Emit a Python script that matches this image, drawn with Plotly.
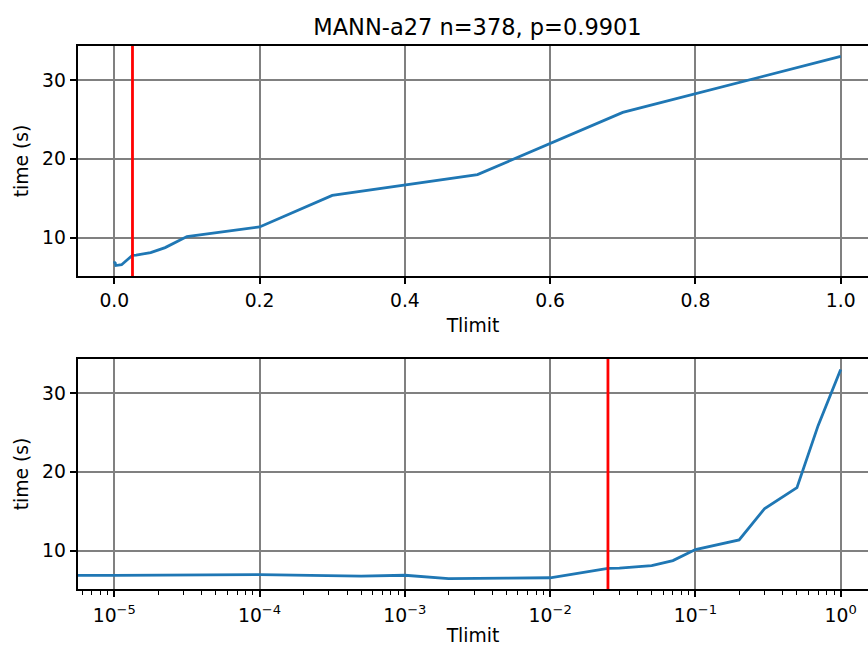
import numpy as np
import plotly.graph_objects as go

# ---- data ----
tlimit = [0, 1e-5, 1e-4, 5e-4, 1e-3, 2e-3, 5e-3, 1e-2, 0.025, 0.03,
          0.05, 0.07, 0.1, 0.2, 0.3, 0.5, 0.7, 1.0]
time_s = [6.85, 6.84, 6.95, 6.75, 6.87, 6.45, 6.5, 6.55, 7.75, 7.78,
          8.1, 8.73, 10.13, 11.35, 15.35, 18.0, 25.9, 33.0]
chosen_tlimit = 0.025
title_text = "MANN-a27 n=378, p=0.9901"
lin_ticks = [0.0, 0.2, 0.4, 0.6, 0.8, 1.0]
lin_ticklabels = ["0.0", "0.2", "0.4", "0.6", "0.8", "1.0"]
log_exps = [-5, -4, -3, -2, -1, 0]
y_ticks = [10, 20, 30]

# ---- geometry ----
W, H = 868, 646
ML, MT, MB = 78, 46, 57
FULL_AX_W = 799          # full axes width of the original (right part cropped)
VIS_AX_W = W - ML
BLUE = "#1f77b4"
FONT = "DejaVu Sans"
TICK_PX = 18.75
TITLE_PX = 22.5

x = np.array(tlimit, dtype=float)
y = np.array(time_s, dtype=float)

# matplotlib-like autoscale with 5% margins
def pad(lo, hi, m=0.05):
    d = hi - lo
    return lo - m * d, hi + m * d

xl_lo, xl_hi = pad(x.min(), x.max())
xl_hi_vis = xl_lo + (xl_hi - xl_lo) * VIS_AX_W / FULL_AX_W
pos = x[x > 0]
lg_lo, lg_hi = pad(np.log10(pos.min()), np.log10(pos.max()))
lg_hi_vis = lg_lo + (lg_hi - lg_lo) * VIS_AX_W / FULL_AX_W
y_lo, y_hi = pad(y.min(), y.max())

# non-positive values are clipped like matplotlib's log scale does
x_log = np.clip(x, 1e-300, None)

plot_h = H - MT - MB
top_dom = [(589 - 276) / plot_h, 1.0]
bot_dom = [0.0, (589 - 359) / plot_h]

fig = go.Figure()
fig.add_trace(go.Scatter(x=x, y=y, mode="lines", line=dict(color=BLUE, width=2.8),
                         xaxis="x", yaxis="y", showlegend=False))
fig.add_trace(go.Scatter(x=x_log, y=y, mode="lines", line=dict(color=BLUE, width=2.8),
                         xaxis="x2", yaxis="y2", showlegend=False))

for xr, yr in (("x", "y"), ("x2", "y2")):
    fig.add_shape(type="line", xref=xr, yref=yr + " domain",
                  x0=chosen_tlimit, x1=chosen_tlimit, y0=0, y1=1,
                  line=dict(color="red", width=2.8), layer="above")

tickfont = dict(family=FONT, size=TICK_PX, color="black")
common_axis = dict(showline=True, linecolor="black", linewidth=1.5,
                   ticks="outside", ticklen=6.6, tickwidth=1.5, tickcolor="black",
                   showgrid=True, gridcolor="gray", gridwidth=1.5,
                   zeroline=False, tickfont=tickfont)

minor_vals = [k * 10.0 ** e for e in range(-6, 1) for k in range(2, 10)]

fig.update_layout(
    width=W, height=H,
    margin=dict(l=ML, r=0, t=MT, b=MB, pad=0),
    plot_bgcolor="white", paper_bgcolor="white",
    title=dict(text=title_text, x=(ML + FULL_AX_W / 2) / W, xanchor="center",
               y=1 - 27 / H, yanchor="middle", xref="container", yref="container",
               font=dict(family=FONT, size=TITLE_PX, color="black")),
    xaxis=dict(domain=[0, 1], anchor="y", range=[xl_lo, xl_hi_vis],
               tickvals=lin_ticks, ticktext=lin_ticklabels, mirror=True,
               title=dict(text="Tlimit", font=tickfont, standoff=9),
               **common_axis),
    yaxis=dict(domain=top_dom, anchor="x", range=[y_lo, y_hi], tickvals=y_ticks,
               title=dict(text="time (s)", font=tickfont, standoff=8),
               **common_axis),
    xaxis2=dict(domain=[0, 1], anchor="y2", type="log", range=[lg_lo, lg_hi_vis],
                tickvals=[10.0 ** e for e in log_exps],
                ticktext=["10<sup>\u2212%d</sup>" % -e if e < 0 else "10<sup>0</sup>" for e in log_exps],
                mirror=True,
                minor=dict(tickvals=minor_vals, ticks="outside", ticklen=3.8,
                           tickwidth=1.1, tickcolor="black", showgrid=False),
                ticklabelstandoff=2,
                title=dict(text="Tlimit", font=tickfont, standoff=8),
                **common_axis),
    yaxis2=dict(domain=bot_dom, anchor="x2", range=[y_lo, y_hi], tickvals=y_ticks,
                title=dict(text="time (s)", font=tickfont, standoff=8),
                **common_axis),
)

fig.write_html("out.html")
